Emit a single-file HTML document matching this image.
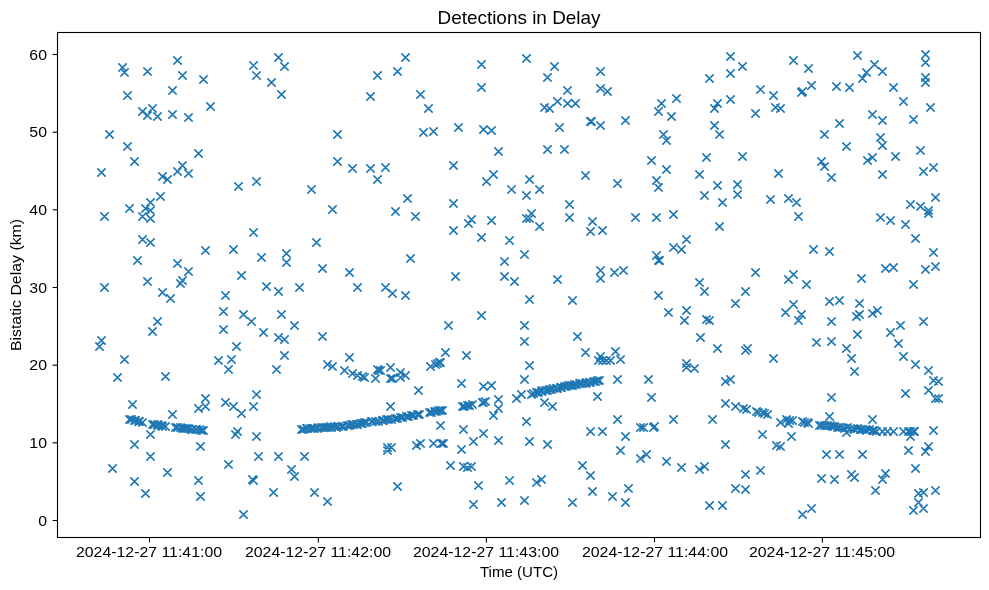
<!DOCTYPE html>
<html><head><meta charset="utf-8"><style>
html,body{margin:0;padding:0;background:#fff;}
body{width:989px;height:590px;position:relative;overflow:hidden;font-family:"Liberation Sans",sans-serif;color:#000;}
svg{position:absolute;left:0;top:0;}
.t{position:absolute;white-space:nowrap;line-height:1;-webkit-font-smoothing:antialiased;will-change:transform;}
.yl{left:-53px;width:100px;text-align:right;font-size:14.7px;transform-origin:100% 50%;transform:scaleX(1.08);}
.xl{top:545.0px;width:200px;text-align:center;font-size:14.7px;transform:scaleX(1.08);}
.title{left:319px;width:400px;top:10.0px;text-align:center;font-size:17.7px;transform:scaleX(1.07);}
.xlab{left:419px;width:200px;top:564.5px;text-align:center;font-size:14.7px;transform:scaleX(1.025);}
.ylab{left:8.5px;top:193px;width:200px;height:200px;}
.ylab span{position:absolute;left:0;top:0;width:200px;text-align:center;font-size:14.7px;line-height:1;transform-origin:0 0;transform:translate(0px,200px) rotate(-90deg) scaleX(1.08);}
</style></head><body>
<svg width="989" height="590" viewBox="0 0 989 590">
<rect x="57.5" y="32.5" width="923" height="505" fill="none" stroke="#000" stroke-width="1.1"/>
<g stroke="#000" stroke-width="1.1" fill="none"><path d="M52.6 520.5H57.5"/><path d="M52.6 442.8H57.5"/><path d="M52.6 365.2H57.5"/><path d="M52.6 287.5H57.5"/><path d="M52.6 209.8H57.5"/><path d="M52.6 132.2H57.5"/><path d="M52.6 54.5H57.5"/><path d="M149.5 537.5V542.4"/><path d="M318.3 537.5V542.4"/><path d="M486.4 537.5V542.4"/><path d="M654.5 537.5V542.4"/><path d="M822.4 537.5V542.4"/></g>
<path d="M118.33 63.33L126.67 71.67M118.33 71.67L126.67 63.33M120.33 68.33L128.67 76.67M120.33 76.67L128.67 68.33M143.33 67.33L151.67 75.67M143.33 75.67L151.67 67.33M173.33 56.33L181.67 64.67M173.33 64.67L181.67 56.33M178.33 71.33L186.67 79.67M178.33 79.67L186.67 71.33M199.33 75.33L207.67 83.67M199.33 83.67L207.67 75.33M168.33 86.33L176.67 94.67M168.33 94.67L176.67 86.33M123.33 91.33L131.67 99.67M123.33 99.67L131.67 91.33M206.33 102.33L214.67 110.67M206.33 110.67L214.67 102.33M138.33 107.33L146.67 115.67M138.33 115.67L146.67 107.33M148.33 104.33L156.67 112.67M148.33 112.67L156.67 104.33M143.33 111.33L151.67 119.67M143.33 119.67L151.67 111.33M153.33 112.33L161.67 120.67M153.33 120.67L161.67 112.33M168.33 110.33L176.67 118.67M168.33 118.67L176.67 110.33M184.33 113.33L192.67 121.67M184.33 121.67L192.67 113.33M249.33 61.33L257.67 69.67M249.33 69.67L257.67 61.33M252.33 71.33L260.67 79.67M252.33 79.67L260.67 71.33M274.33 53.33L282.67 61.67M274.33 61.67L282.67 53.33M280.33 62.33L288.67 70.67M280.33 70.67L288.67 62.33M267.33 78.33L275.67 86.67M267.33 86.67L275.67 78.33M277.33 90.33L285.67 98.67M277.33 98.67L285.67 90.33M373.33 71.33L381.67 79.67M373.33 79.67L381.67 71.33M366.33 92.33L374.67 100.67M366.33 100.67L374.67 92.33M393.33 67.33L401.67 75.67M393.33 75.67L401.67 67.33M401.33 53.33L409.67 61.67M401.33 61.67L409.67 53.33M416.33 90.33L424.67 98.67M416.33 98.67L424.67 90.33M424.33 104.33L432.67 112.67M424.33 112.67L432.67 104.33M454.33 123.33L462.67 131.67M454.33 131.67L462.67 123.33M477.33 60.33L485.67 68.67M477.33 68.67L485.67 60.33M477.33 83.33L485.67 91.67M477.33 91.67L485.67 83.33M522.33 54.33L530.67 62.67M522.33 62.67L530.67 54.33M550.33 62.33L558.67 70.67M550.33 70.67L558.67 62.33M543.33 73.33L551.67 81.67M543.33 81.67L551.67 73.33M540.33 103.33L548.67 111.67M540.33 111.67L548.67 103.33M545.33 104.33L553.67 112.67M545.33 112.67L553.67 104.33M553.33 97.33L561.67 105.67M553.33 105.67L561.67 97.33M555.33 123.33L563.67 131.67M555.33 131.67L563.67 123.33M563.33 86.33L571.67 94.67M563.33 94.67L571.67 86.33M563.33 99.33L571.67 107.67M563.33 107.67L571.67 99.33M571.33 99.33L579.67 107.67M571.33 107.67L579.67 99.33M596.33 67.33L604.67 75.67M596.33 75.67L604.67 67.33M596.33 84.33L604.67 92.67M596.33 92.67L604.67 84.33M603.33 87.33L611.67 95.67M603.33 95.67L611.67 87.33M586.33 117.33L594.67 125.67M586.33 125.67L594.67 117.33M596.33 121.33L604.67 129.67M596.33 129.67L604.67 121.33M621.33 116.33L629.67 124.67M621.33 124.67L629.67 116.33M657.33 99.33L665.67 107.67M657.33 107.67L665.67 99.33M654.33 107.33L662.67 115.67M654.33 115.67L662.67 107.33M672.33 94.33L680.67 102.67M672.33 102.67L680.67 94.33M667.33 112.33L675.67 120.67M667.33 120.67L675.67 112.33M705.33 74.33L713.67 82.67M705.33 82.67L713.67 74.33M713.33 99.33L721.67 107.67M713.33 107.67L721.67 99.33M710.33 104.33L718.67 112.67M710.33 112.67L718.67 104.33M710.33 121.33L718.67 129.67M710.33 129.67L718.67 121.33M587.33 117.33L595.67 125.67M587.33 125.67L595.67 117.33M726.33 52.33L734.67 60.67M726.33 60.67L734.67 52.33M738.33 62.33L746.67 70.67M738.33 70.67L746.67 62.33M726.33 69.33L734.67 77.67M726.33 77.67L734.67 69.33M726.33 95.33L734.67 103.67M726.33 103.67L734.67 95.33M756.33 85.33L764.67 93.67M756.33 93.67L764.67 85.33M769.33 91.33L777.67 99.67M769.33 99.67L777.67 91.33M771.33 103.33L779.67 111.67M771.33 111.67L779.67 103.33M776.33 104.33L784.67 112.67M776.33 112.67L784.67 104.33M751.33 109.33L759.67 117.67M751.33 117.67L759.67 109.33M789.33 56.33L797.67 64.67M789.33 64.67L797.67 56.33M804.33 64.33L812.67 72.67M804.33 72.67L812.67 64.33M807.33 81.33L815.67 89.67M807.33 89.67L815.67 81.33M797.33 88.33L805.67 96.67M797.33 96.67L805.67 88.33M832.33 82.33L840.67 90.67M832.33 90.67L840.67 82.33M845.33 83.33L853.67 91.67M845.33 91.67L853.67 83.33M853.33 51.33L861.67 59.67M853.33 59.67L861.67 51.33M870.33 60.33L878.67 68.67M870.33 68.67L878.67 60.33M862.33 68.33L870.67 76.67M862.33 76.67L870.67 68.33M858.33 74.33L866.67 82.67M858.33 82.67L866.67 74.33M878.33 67.33L886.67 75.67M878.33 75.67L886.67 67.33M868.33 110.33L876.67 118.67M868.33 118.67L876.67 110.33M878.33 116.33L886.67 124.67M878.33 124.67L886.67 116.33M835.33 119.33L843.67 127.67M835.33 127.67L843.67 119.33M889.33 83.33L897.67 91.67M889.33 91.67L897.67 83.33M899.33 97.33L907.67 105.67M899.33 105.67L907.67 97.33M909.33 115.33L917.67 123.67M909.33 123.67L917.67 115.33M921.33 50.33L929.67 58.67M921.33 58.67L929.67 50.33M921.33 58.33L929.67 66.67M921.33 66.67L929.67 58.33M921.33 73.33L929.67 81.67M921.33 81.67L929.67 73.33M921.33 78.33L929.67 86.67M921.33 86.67L929.67 78.33M926.33 103.33L934.67 111.67M926.33 111.67L934.67 103.33M105.33 130.33L113.67 138.67M105.33 138.67L113.67 130.33M123.33 142.33L131.67 150.67M123.33 150.67L131.67 142.33M130.33 157.33L138.67 165.67M130.33 165.67L138.67 157.33M97.33 168.33L105.67 176.67M97.33 176.67L105.67 168.33M194.33 149.33L202.67 157.67M194.33 157.67L202.67 149.33M178.33 161.33L186.67 169.67M178.33 169.67L186.67 161.33M173.33 167.33L181.67 175.67M173.33 175.67L181.67 167.33M184.33 169.33L192.67 177.67M184.33 177.67L192.67 169.33M158.33 172.33L166.67 180.67M158.33 180.67L166.67 172.33M163.33 175.33L171.67 183.67M163.33 183.67L171.67 175.33M156.33 192.33L164.67 200.67M156.33 200.67L164.67 192.33M125.33 204.33L133.67 212.67M125.33 212.67L133.67 204.33M100.33 212.33L108.67 220.67M100.33 220.67L108.67 212.33M146.33 198.33L154.67 206.67M146.33 206.67L154.67 198.33M141.33 204.33L149.67 212.67M141.33 212.67L149.67 204.33M146.33 206.33L154.67 214.67M146.33 214.67L154.67 206.33M138.33 212.33L146.67 220.67M138.33 220.67L146.67 212.33M138.33 212.33L146.67 220.67M138.33 220.67L146.67 212.33M146.33 214.33L154.67 222.67M146.33 222.67L154.67 214.33M333.33 130.33L341.67 138.67M333.33 138.67L341.67 130.33M333.33 157.33L341.67 165.67M333.33 165.67L341.67 157.33M348.33 164.33L356.67 172.67M348.33 172.67L356.67 164.33M366.33 164.33L374.67 172.67M366.33 172.67L374.67 164.33M381.33 163.33L389.67 171.67M381.33 171.67L389.67 163.33M373.33 175.33L381.67 183.67M373.33 183.67L381.67 175.33M252.33 177.33L260.67 185.67M252.33 185.67L260.67 177.33M234.33 182.33L242.67 190.67M234.33 190.67L242.67 182.33M307.33 185.33L315.67 193.67M307.33 193.67L315.67 185.33M328.33 205.33L336.67 213.67M328.33 213.67L336.67 205.33M494.33 147.33L502.67 155.67M494.33 155.67L502.67 147.33M543.33 145.33L551.67 153.67M543.33 153.67L551.67 145.33M449.33 161.33L457.67 169.67M449.33 169.67L457.67 161.33M489.33 170.33L497.67 178.67M489.33 178.67L497.67 170.33M482.33 177.33L490.67 185.67M482.33 185.67L490.67 177.33M525.33 175.33L533.67 183.67M525.33 183.67L533.67 175.33M507.33 185.33L515.67 193.67M507.33 193.67L515.67 185.33M535.33 185.33L543.67 193.67M535.33 193.67L543.67 185.33M522.33 191.33L530.67 199.67M522.33 199.67L530.67 191.33M403.33 194.33L411.67 202.67M403.33 202.67L411.67 194.33M391.33 207.33L399.67 215.67M391.33 215.67L399.67 207.33M411.33 212.33L419.67 220.67M411.33 220.67L419.67 212.33M449.33 199.33L457.67 207.67M449.33 207.67L457.67 199.33M467.33 215.33L475.67 223.67M467.33 223.67L475.67 215.33M464.33 219.33L472.67 227.67M464.33 227.67L472.67 219.33M487.33 216.33L495.67 224.67M487.33 224.67L495.67 216.33M535.33 222.33L543.67 230.67M535.33 230.67L543.67 222.33M527.33 209.33L535.67 217.67M527.33 217.67L535.67 209.33M522.33 214.33L530.67 222.67M522.33 222.67L530.67 214.33M525.33 214.33L533.67 222.67M525.33 222.67L533.67 214.33M419.33 128.33L427.67 136.67M419.33 136.67L427.67 128.33M429.33 127.33L437.67 135.67M429.33 135.67L437.67 127.33M479.33 125.33L487.67 133.67M479.33 133.67L487.67 125.33M487.33 126.33L495.67 134.67M487.33 134.67L495.67 126.33M560.33 145.33L568.67 153.67M560.33 153.67L568.67 145.33M581.33 171.33L589.67 179.67M581.33 179.67L589.67 171.33M613.33 179.33L621.67 187.67M613.33 187.67L621.67 179.33M565.33 200.33L573.67 208.67M565.33 208.67L573.67 200.33M565.33 213.33L573.67 221.67M565.33 221.67L573.67 213.33M588.33 217.33L596.67 225.67M588.33 225.67L596.67 217.33M631.33 213.33L639.67 221.67M631.33 221.67L639.67 213.33M652.33 213.33L660.67 221.67M652.33 221.67L660.67 213.33M669.33 210.33L677.67 218.67M669.33 218.67L677.67 210.33M647.33 156.33L655.67 164.67M647.33 164.67L655.67 156.33M662.33 165.33L670.67 173.67M662.33 173.67L670.67 165.33M652.33 176.33L660.67 184.67M652.33 184.67L660.67 176.33M654.33 183.33L662.67 191.67M654.33 191.67L662.67 183.33M702.33 153.33L710.67 161.67M702.33 161.67L710.67 153.33M695.33 170.33L703.67 178.67M695.33 178.67L703.67 170.33M700.33 191.33L708.67 199.67M700.33 199.67L708.67 191.33M659.33 130.33L667.67 138.67M659.33 138.67L667.67 130.33M662.33 136.33L670.67 144.67M662.33 144.67L670.67 136.33M715.33 130.33L723.67 138.67M715.33 138.67L723.67 130.33M820.33 130.33L828.67 138.67M820.33 138.67L828.67 130.33M738.33 152.33L746.67 160.67M738.33 160.67L746.67 152.33M713.33 181.33L721.67 189.67M713.33 189.67L721.67 181.33M733.33 180.33L741.67 188.67M733.33 188.67L741.67 180.33M733.33 190.33L741.67 198.67M733.33 198.67L741.67 190.33M718.33 198.33L726.67 206.67M718.33 206.67L726.67 198.33M715.33 222.33L723.67 230.67M715.33 230.67L723.67 222.33M774.33 169.33L782.67 177.67M774.33 177.67L782.67 169.33M766.33 195.33L774.67 203.67M766.33 203.67L774.67 195.33M784.33 194.33L792.67 202.67M784.33 202.67L792.67 194.33M792.33 198.33L800.67 206.67M792.33 206.67L800.67 198.33M794.33 212.33L802.67 220.67M794.33 220.67L802.67 212.33M842.33 142.33L850.67 150.67M842.33 150.67L850.67 142.33M817.33 157.33L825.67 165.67M817.33 165.67L825.67 157.33M820.33 162.33L828.67 170.67M820.33 170.67L828.67 162.33M827.33 173.33L835.67 181.67M827.33 181.67L835.67 173.33M863.33 156.33L871.67 164.67M863.33 164.67L871.67 156.33M868.33 153.33L876.67 161.67M868.33 161.67L876.67 153.33M876.33 133.33L884.67 141.67M876.33 141.67L884.67 133.33M878.33 141.33L886.67 149.67M878.33 149.67L886.67 141.33M891.33 152.33L899.67 160.67M891.33 160.67L899.67 152.33M916.33 146.33L924.67 154.67M916.33 154.67L924.67 146.33M929.33 163.33L937.67 171.67M929.33 171.67L937.67 163.33M919.33 167.33L927.67 175.67M919.33 175.67L927.67 167.33M878.33 170.33L886.67 178.67M878.33 178.67L886.67 170.33M931.33 193.33L939.67 201.67M931.33 201.67L939.67 193.33M876.33 213.33L884.67 221.67M876.33 221.67L884.67 213.33M886.33 216.33L894.67 224.67M886.33 224.67L894.67 216.33M901.33 220.33L909.67 228.67M901.33 228.67L909.67 220.33M906.33 200.33L914.67 208.67M906.33 208.67L914.67 200.33M916.33 202.33L924.67 210.67M916.33 210.67L924.67 202.33M924.33 206.33L932.67 214.67M924.33 214.67L932.67 206.33M924.33 209.33L932.67 217.67M924.33 217.67L932.67 209.33M138.33 235.33L146.67 243.67M138.33 243.67L146.67 235.33M146.33 238.33L154.67 246.67M146.33 246.67L154.67 238.33M133.33 256.33L141.67 264.67M133.33 264.67L141.67 256.33M201.33 246.33L209.67 254.67M201.33 254.67L209.67 246.33M173.33 259.33L181.67 267.67M173.33 267.67L181.67 259.33M184.33 267.33L192.67 275.67M184.33 275.67L192.67 267.33M178.33 276.33L186.67 284.67M178.33 284.67L186.67 276.33M176.33 279.33L184.67 287.67M176.33 287.67L184.67 279.33M143.33 277.33L151.67 285.67M143.33 285.67L151.67 277.33M100.33 283.33L108.67 291.67M100.33 291.67L108.67 283.33M158.33 288.33L166.67 296.67M158.33 296.67L166.67 288.33M166.33 294.33L174.67 302.67M166.33 302.67L174.67 294.33M153.33 317.33L161.67 325.67M153.33 325.67L161.67 317.33M249.33 228.33L257.67 236.67M249.33 236.67L257.67 228.33M229.33 245.33L237.67 253.67M229.33 253.67L237.67 245.33M257.33 253.33L265.67 261.67M257.33 261.67L265.67 253.33M282.33 249.33L290.67 257.67M282.33 257.67L290.67 249.33M282.33 258.33L290.67 266.67M282.33 266.67L290.67 258.33M312.33 238.33L320.67 246.67M312.33 246.67L320.67 238.33M318.33 264.33L326.67 272.67M318.33 272.67L326.67 264.33M345.33 268.33L353.67 276.67M345.33 276.67L353.67 268.33M237.33 271.33L245.67 279.67M237.33 279.67L245.67 271.33M262.33 282.33L270.67 290.67M262.33 290.67L270.67 282.33M274.33 287.33L282.67 295.67M274.33 295.67L282.67 287.33M295.33 283.33L303.67 291.67M295.33 291.67L303.67 283.33M353.33 283.33L361.67 291.67M353.33 291.67L361.67 283.33M221.33 291.33L229.67 299.67M221.33 299.67L229.67 291.33M219.33 307.33L227.67 315.67M219.33 315.67L227.67 307.33M239.33 310.33L247.67 318.67M239.33 318.67L247.67 310.33M247.33 317.33L255.67 325.67M247.33 325.67L255.67 317.33M277.33 310.33L285.67 318.67M277.33 318.67L285.67 310.33M449.33 226.33L457.67 234.67M449.33 234.67L457.67 226.33M477.33 233.33L485.67 241.67M477.33 241.67L485.67 233.33M505.33 236.33L513.67 244.67M505.33 244.67L513.67 236.33M520.33 250.33L528.67 258.67M520.33 258.67L528.67 250.33M500.33 257.33L508.67 265.67M500.33 265.67L508.67 257.33M406.33 254.33L414.67 262.67M406.33 262.67L414.67 254.33M451.33 272.33L459.67 280.67M451.33 280.67L459.67 272.33M500.33 272.33L508.67 280.67M500.33 280.67L508.67 272.33M510.33 277.33L518.67 285.67M510.33 285.67L518.67 277.33M381.33 283.33L389.67 291.67M381.33 291.67L389.67 283.33M388.33 289.33L396.67 297.67M388.33 297.67L396.67 289.33M401.33 291.33L409.67 299.67M401.33 299.67L409.67 291.33M525.33 295.33L533.67 303.67M525.33 303.67L533.67 295.33M477.33 311.33L485.67 319.67M477.33 319.67L485.67 311.33M586.33 227.33L594.67 235.67M586.33 235.67L594.67 227.33M598.33 226.33L606.67 234.67M598.33 234.67L606.67 226.33M553.33 275.33L561.67 283.67M553.33 283.67L561.67 275.33M568.33 296.33L576.67 304.67M568.33 304.67L576.67 296.33M596.33 266.33L604.67 274.67M596.33 274.67L604.67 266.33M596.33 274.33L604.67 282.67M596.33 282.67L604.67 274.33M610.33 268.33L618.67 276.67M610.33 276.67L618.67 268.33M619.33 266.33L627.67 274.67M619.33 274.67L627.67 266.33M669.33 243.33L677.67 251.67M669.33 251.67L677.67 243.33M677.33 245.33L685.67 253.67M677.33 253.67L685.67 245.33M682.33 235.33L690.67 243.67M682.33 243.67L690.67 235.33M695.33 278.33L703.67 286.67M695.33 286.67L703.67 278.33M654.33 291.33L662.67 299.67M654.33 299.67L662.67 291.33M664.33 308.33L672.67 316.67M664.33 316.67L672.67 308.33M682.33 306.33L690.67 314.67M682.33 314.67L690.67 306.33M680.33 316.33L688.67 324.67M680.33 324.67L688.67 316.33M652.33 251.33L660.67 259.67M652.33 259.67L660.67 251.33M654.33 256.33L662.67 264.67M654.33 264.67L662.67 256.33M655.33 256.33L663.67 264.67M655.33 264.67L663.67 256.33M700.33 287.33L708.67 295.67M700.33 295.67L708.67 287.33M702.33 315.33L710.67 323.67M702.33 323.67L710.67 315.33M705.33 316.33L713.67 324.67M705.33 324.67L713.67 316.33M751.33 268.33L759.67 276.67M751.33 276.67L759.67 268.33M741.33 287.33L749.67 295.67M741.33 295.67L749.67 287.33M731.33 299.33L739.67 307.67M731.33 307.67L739.67 299.33M809.33 245.33L817.67 253.67M809.33 253.67L817.67 245.33M825.33 247.33L833.67 255.67M825.33 255.67L833.67 247.33M789.33 270.33L797.67 278.67M789.33 278.67L797.67 270.33M784.33 275.33L792.67 283.67M784.33 283.67L792.67 275.33M802.33 280.33L810.67 288.67M802.33 288.67L810.67 280.33M857.33 274.33L865.67 282.67M857.33 282.67L865.67 274.33M789.33 300.33L797.67 308.67M789.33 308.67L797.67 300.33M781.33 308.33L789.67 316.67M781.33 316.67L789.67 308.33M797.33 310.33L805.67 318.67M797.33 318.67L805.67 310.33M794.33 316.33L802.67 324.67M794.33 324.67L802.67 316.33M825.33 297.33L833.67 305.67M825.33 305.67L833.67 297.33M835.33 296.33L843.67 304.67M835.33 304.67L843.67 296.33M855.33 299.33L863.67 307.67M855.33 307.67L863.67 299.33M855.33 310.33L863.67 318.67M855.33 318.67L863.67 310.33M852.33 312.33L860.67 320.67M852.33 320.67L860.67 312.33M827.33 317.33L835.67 325.67M827.33 325.67L835.67 317.33M911.33 234.33L919.67 242.67M911.33 242.67L919.67 234.33M929.33 248.33L937.67 256.67M929.33 256.67L937.67 248.33M931.33 262.33L939.67 270.67M931.33 270.67L939.67 262.33M921.33 265.33L929.67 273.67M921.33 273.67L929.67 265.33M881.33 264.33L889.67 272.67M881.33 272.67L889.67 264.33M889.33 263.33L897.67 271.67M889.33 271.67L897.67 263.33M909.33 280.33L917.67 288.67M909.33 288.67L917.67 280.33M873.33 306.33L881.67 314.67M873.33 314.67L881.67 306.33M868.33 309.33L876.67 317.67M868.33 317.67L876.67 309.33M919.33 317.33L927.67 325.67M919.33 325.67L927.67 317.33M148.33 327.33L156.67 335.67M148.33 335.67L156.67 327.33M97.33 336.33L105.67 344.67M97.33 344.67L105.67 336.33M95.33 342.33L103.67 350.67M95.33 350.67L103.67 342.33M120.33 355.33L128.67 363.67M120.33 363.67L128.67 355.33M113.33 373.33L121.67 381.67M113.33 381.67L121.67 373.33M161.33 372.33L169.67 380.67M161.33 380.67L169.67 372.33M214.33 356.33L222.67 364.67M214.33 364.67L222.67 356.33M128.33 400.33L136.67 408.67M128.33 408.67L136.67 400.33M201.33 394.33L209.67 402.67M201.33 402.67L209.67 394.33M201.33 402.33L209.67 410.67M201.33 410.67L209.67 402.33M194.33 404.33L202.67 412.67M194.33 412.67L202.67 404.33M290.33 321.33L298.67 329.67M290.33 329.67L298.67 321.33M219.33 325.33L227.67 333.67M219.33 333.67L227.67 325.33M259.33 328.33L267.67 336.67M259.33 336.67L267.67 328.33M274.33 333.33L282.67 341.67M274.33 341.67L282.67 333.33M280.33 335.33L288.67 343.67M280.33 343.67L288.67 335.33M318.33 332.33L326.67 340.67M318.33 340.67L326.67 332.33M232.33 342.33L240.67 350.67M232.33 350.67L240.67 342.33M280.33 351.33L288.67 359.67M280.33 359.67L288.67 351.33M227.33 355.33L235.67 363.67M227.33 363.67L235.67 355.33M224.33 365.33L232.67 373.67M224.33 373.67L232.67 365.33M272.33 365.33L280.67 373.67M272.33 373.67L280.67 365.33M345.33 353.33L353.67 361.67M345.33 361.67L353.67 353.33M252.33 390.33L260.67 398.67M252.33 398.67L260.67 390.33M221.33 398.33L229.67 406.67M221.33 406.67L229.67 398.33M229.33 402.33L237.67 410.67M229.33 410.67L237.67 402.33M237.33 409.33L245.67 417.67M237.33 417.67L245.67 409.33M249.33 402.33L257.67 410.67M249.33 410.67L257.67 402.33M323.33 360.33L331.67 368.67M323.33 368.67L331.67 360.33M328.33 362.33L336.67 370.67M328.33 370.67L336.67 362.33M340.33 366.33L348.67 374.67M340.33 374.67L348.67 366.33M348.33 369.33L356.67 377.67M348.33 377.67L356.67 369.33M353.33 371.33L361.67 379.67M353.33 379.67L361.67 371.33M358.33 372.33L366.67 380.67M358.33 380.67L366.67 372.33M360.33 373.33L368.67 381.67M360.33 381.67L368.67 373.33M371.33 374.33L379.67 382.67M371.33 382.67L379.67 374.33M373.33 365.33L381.67 373.67M373.33 373.67L381.67 365.33M374.33 366.33L382.67 374.67M374.33 374.67L382.67 366.33M376.33 366.33L384.67 374.67M376.33 374.67L384.67 366.33M386.33 363.33L394.67 371.67M386.33 371.67L394.67 363.33M386.33 374.33L394.67 382.67M386.33 382.67L394.67 374.33M388.33 374.33L396.67 382.67M388.33 382.67L396.67 374.33M396.33 368.33L404.67 376.67M396.33 376.67L404.67 368.33M396.33 373.33L404.67 381.67M396.33 381.67L404.67 373.33M401.33 371.33L409.67 379.67M401.33 379.67L409.67 371.33M426.33 362.33L434.67 370.67M426.33 370.67L434.67 362.33M431.33 360.33L439.67 368.67M431.33 368.67L439.67 360.33M433.33 359.33L441.67 367.67M433.33 367.67L441.67 359.33M435.33 358.33L443.67 366.67M435.33 366.67L443.67 358.33M436.33 358.33L444.67 366.67M436.33 366.67L444.67 358.33M441.33 348.33L449.67 356.67M441.33 356.67L449.67 348.33M462.33 351.33L470.67 359.67M462.33 359.67L470.67 351.33M414.33 386.33L422.67 394.67M414.33 394.67L422.67 386.33M386.33 402.33L394.67 410.67M386.33 410.67L394.67 402.33M436.33 421.33L444.67 429.67M436.33 429.67L444.67 421.33M146.33 430.33L154.67 438.67M146.33 438.67L154.67 430.33M130.33 440.33L138.67 448.67M130.33 448.67L138.67 440.33M196.33 442.33L204.67 450.67M196.33 450.67L204.67 442.33M233.33 427.33L241.67 435.67M233.33 435.67L241.67 427.33M231.33 430.33L239.67 438.67M231.33 438.67L239.67 430.33M444.33 321.33L452.67 329.67M444.33 329.67L452.67 321.33M520.33 321.33L528.67 329.67M520.33 329.67L528.67 321.33M520.33 337.33L528.67 345.67M520.33 345.67L528.67 337.33M525.33 361.33L533.67 369.67M525.33 369.67L533.67 361.33M520.33 375.33L528.67 383.67M520.33 383.67L528.67 375.33M457.33 379.33L465.67 387.67M457.33 387.67L465.67 379.33M479.33 382.33L487.67 390.67M479.33 390.67L487.67 382.33M487.33 381.33L495.67 389.67M487.33 389.67L495.67 381.33M494.33 395.33L502.67 403.67M494.33 403.67L502.67 395.33M494.33 404.33L502.67 412.67M494.33 412.67L502.67 404.33M489.33 411.33L497.67 419.67M489.33 419.67L497.67 411.33M512.33 394.33L520.67 402.67M512.33 402.67L520.67 394.33M517.33 390.33L525.67 398.67M517.33 398.67L525.67 390.33M540.33 398.33L548.67 406.67M540.33 406.67L548.67 398.33M548.33 402.33L556.67 410.67M548.33 410.67L556.67 402.33M573.33 332.33L581.67 340.67M573.33 340.67L581.67 332.33M581.33 348.33L589.67 356.67M581.33 356.67L589.67 348.33M596.33 352.33L604.67 360.67M596.33 360.67L604.67 352.33M611.33 347.33L619.67 355.67M611.33 355.67L619.67 347.33M613.33 375.33L621.67 383.67M613.33 383.67L621.67 375.33M593.33 392.33L601.67 400.67M593.33 400.67L601.67 392.33M644.33 375.33L652.67 383.67M644.33 383.67L652.67 375.33M647.33 393.33L655.67 401.67M647.33 401.67L655.67 393.33M696.33 333.33L704.67 341.67M696.33 341.67L704.67 333.33M682.33 359.33L690.67 367.67M682.33 367.67L690.67 359.33M682.33 363.33L690.67 371.67M682.33 371.67L690.67 363.33M690.33 364.33L698.67 372.67M690.33 372.67L698.67 364.33M594.33 356.33L602.67 364.67M594.33 364.67L602.67 356.33M598.33 356.33L606.67 364.67M598.33 364.67L606.67 356.33M602.33 356.33L610.67 364.67M602.33 364.67L610.67 356.33M606.33 356.33L614.67 364.67M606.33 364.67L614.67 356.33M616.33 355.33L624.67 363.67M616.33 363.67L624.67 355.33M713.33 344.33L721.67 352.67M713.33 352.67L721.67 344.33M741.33 346.33L749.67 354.67M741.33 354.67L749.67 346.33M743.33 344.33L751.67 352.67M743.33 352.67L751.67 344.33M769.33 354.33L777.67 362.67M769.33 362.67L777.67 354.33M812.33 338.33L820.67 346.67M812.33 346.67L820.67 338.33M827.33 337.33L835.67 345.67M827.33 345.67L835.67 337.33M842.33 344.33L850.67 352.67M842.33 352.67L850.67 344.33M853.33 330.33L861.67 338.67M853.33 338.67L861.67 330.33M847.33 354.33L855.67 362.67M847.33 362.67L855.67 354.33M850.33 367.33L858.67 375.67M850.33 375.67L858.67 367.33M721.33 377.33L729.67 385.67M721.33 385.67L729.67 377.33M726.33 375.33L734.67 383.67M726.33 383.67L734.67 375.33M827.33 393.33L835.67 401.67M827.33 401.67L835.67 393.33M721.33 399.33L729.67 407.67M721.33 407.67L729.67 399.33M731.33 402.33L739.67 410.67M731.33 410.67L739.67 402.33M708.33 415.33L716.67 423.67M708.33 423.67L716.67 415.33M739.33 404.33L747.67 412.67M739.33 412.67L747.67 404.33M742.33 405.33L750.67 413.67M742.33 413.67L750.67 405.33M776.33 418.33L784.67 426.67M776.33 426.67L784.67 418.33M784.33 419.33L792.67 427.67M784.33 427.67L792.67 419.33M787.33 432.33L795.67 440.67M787.33 440.67L795.67 432.33M825.33 412.33L833.67 420.67M825.33 420.67L833.67 412.33M868.33 415.33L876.67 423.67M868.33 423.67L876.67 415.33M842.33 428.33L850.67 436.67M842.33 436.67L850.67 428.33M872.33 427.33L880.67 435.67M872.33 435.67L880.67 427.33M878.33 427.33L886.67 435.67M878.33 435.67L886.67 427.33M883.33 427.33L891.67 435.67M883.33 435.67L891.67 427.33M889.33 427.33L897.67 435.67M889.33 435.67L897.67 427.33M899.33 427.33L907.67 435.67M899.33 435.67L907.67 427.33M906.33 432.33L914.67 440.67M906.33 440.67L914.67 432.33M929.33 426.33L937.67 434.67M929.33 434.67L937.67 426.33M772.33 441.33L780.67 449.67M772.33 449.67L780.67 441.33M904.33 446.33L912.67 454.67M904.33 454.67L912.67 446.33M924.33 442.33L932.67 450.67M924.33 450.67L932.67 442.33M921.33 447.33L929.67 455.67M921.33 455.67L929.67 447.33M858.33 450.33L866.67 458.67M858.33 458.67L866.67 450.33M896.33 321.33L904.67 329.67M896.33 329.67L904.67 321.33M886.33 328.33L894.67 336.67M886.33 336.67L894.67 328.33M894.33 339.33L902.67 347.67M894.33 347.67L902.67 339.33M899.33 352.33L907.67 360.67M899.33 360.67L907.67 352.33M911.33 360.33L919.67 368.67M911.33 368.67L919.67 360.33M924.33 366.33L932.67 374.67M924.33 374.67L932.67 366.33M929.33 376.33L937.67 384.67M929.33 384.67L937.67 376.33M934.33 377.33L942.67 385.67M934.33 385.67L942.67 377.33M924.33 386.33L932.67 394.67M924.33 394.67L932.67 386.33M931.33 394.33L939.67 402.67M931.33 402.67L939.67 394.33M934.33 394.33L942.67 402.67M934.33 402.67L942.67 394.33M901.33 389.33L909.67 397.67M901.33 397.67L909.67 389.33M146.33 452.33L154.67 460.67M146.33 460.67L154.67 452.33M108.33 464.33L116.67 472.67M108.33 472.67L116.67 464.33M163.33 468.33L171.67 476.67M163.33 476.67L171.67 468.33M130.33 477.33L138.67 485.67M130.33 485.67L138.67 477.33M141.33 489.33L149.67 497.67M141.33 497.67L149.67 489.33M194.33 476.33L202.67 484.67M194.33 484.67L202.67 476.33M196.33 492.33L204.67 500.67M196.33 500.67L204.67 492.33M252.33 432.33L260.67 440.67M252.33 440.67L260.67 432.33M224.33 460.33L232.67 468.67M224.33 468.67L232.67 460.33M254.33 452.33L262.67 460.67M254.33 460.67L262.67 452.33M274.33 452.33L282.67 460.67M274.33 460.67L282.67 452.33M300.33 452.33L308.67 460.67M300.33 460.67L308.67 452.33M287.33 465.33L295.67 473.67M287.33 473.67L295.67 465.33M290.33 472.33L298.67 480.67M290.33 480.67L298.67 472.33M248.33 475.33L256.67 483.67M248.33 483.67L256.67 475.33M249.33 476.33L257.67 484.67M249.33 484.67L257.67 476.33M269.33 488.33L277.67 496.67M269.33 496.67L277.67 488.33M310.33 488.33L318.67 496.67M310.33 496.67L318.67 488.33M323.33 497.33L331.67 505.67M323.33 505.67L331.67 497.33M239.33 510.33L247.67 518.67M239.33 518.67L247.67 510.33M522.33 417.33L530.67 425.67M522.33 425.67L530.67 417.33M459.33 425.33L467.67 433.67M459.33 433.67L467.67 425.33M479.33 429.33L487.67 437.67M479.33 437.67L487.67 429.33M469.33 437.33L477.67 445.67M469.33 445.67L477.67 437.33M494.33 436.33L502.67 444.67M494.33 444.67L502.67 436.33M525.33 437.33L533.67 445.67M525.33 445.67L533.67 437.33M457.33 445.33L465.67 453.67M457.33 453.67L465.67 445.33M393.33 482.33L401.67 490.67M393.33 490.67L401.67 482.33M474.33 481.33L482.67 489.67M474.33 489.67L482.67 481.33M505.33 476.33L513.67 484.67M505.33 484.67L513.67 476.33M532.33 478.33L540.67 486.67M532.33 486.67L540.67 478.33M537.33 475.33L545.67 483.67M537.33 483.67L545.67 475.33M469.33 500.33L477.67 508.67M469.33 508.67L477.67 500.33M497.33 498.33L505.67 506.67M497.33 506.67L505.67 498.33M520.33 496.33L528.67 504.67M520.33 504.67L528.67 496.33M383.33 443.33L391.67 451.67M383.33 451.67L391.67 443.33M387.33 443.33L395.67 451.67M387.33 451.67L395.67 443.33M383.33 446.33L391.67 454.67M383.33 454.67L391.67 446.33M412.33 441.33L420.67 449.67M412.33 449.67L420.67 441.33M416.33 439.33L424.67 447.67M416.33 447.67L424.67 439.33M429.33 439.33L437.67 447.67M429.33 447.67L437.67 439.33M437.33 439.33L445.67 447.67M437.33 447.67L445.67 439.33M439.33 439.33L447.67 447.67M439.33 447.67L447.67 439.33M446.33 461.33L454.67 469.67M446.33 469.67L454.67 461.33M459.33 462.33L467.67 470.67M459.33 470.67L467.67 462.33M463.33 463.33L471.67 471.67M463.33 471.67L471.67 463.33M467.33 462.33L475.67 470.67M467.33 470.67L475.67 462.33M543.33 440.33L551.67 448.67M543.33 448.67L551.67 440.33M613.33 415.33L621.67 423.67M613.33 423.67L621.67 415.33M586.33 427.33L594.67 435.67M586.33 435.67L594.67 427.33M598.33 427.33L606.67 435.67M598.33 435.67L606.67 427.33M621.33 432.33L629.67 440.67M621.33 440.67L629.67 432.33M616.33 446.33L624.67 454.67M616.33 454.67L624.67 446.33M669.33 415.33L677.67 423.67M669.33 423.67L677.67 415.33M636.33 454.33L644.67 462.67M636.33 462.67L644.67 454.33M642.33 450.33L650.67 458.67M642.33 458.67L650.67 450.33M662.33 457.33L670.67 465.67M662.33 465.67L670.67 457.33M677.33 463.33L685.67 471.67M677.33 471.67L685.67 463.33M695.33 465.33L703.67 473.67M695.33 473.67L703.67 465.33M578.33 461.33L586.67 469.67M578.33 469.67L586.67 461.33M586.33 471.33L594.67 479.67M586.33 479.67L594.67 471.33M588.33 487.33L596.67 495.67M588.33 495.67L596.67 487.33M568.33 498.33L576.67 506.67M568.33 506.67L576.67 498.33M608.33 492.33L616.67 500.67M608.33 500.67L616.67 492.33M624.33 484.33L632.67 492.67M624.33 492.67L632.67 484.33M621.33 498.33L629.67 506.67M621.33 506.67L629.67 498.33M636.33 423.33L644.67 431.67M636.33 431.67L644.67 423.33M639.33 423.33L647.67 431.67M639.33 431.67L647.67 423.33M649.33 423.33L657.67 431.67M649.33 431.67L657.67 423.33M650.33 422.33L658.67 430.67M650.33 430.67L658.67 422.33M721.33 440.33L729.67 448.67M721.33 448.67L729.67 440.33M741.33 470.33L749.67 478.67M741.33 478.67L749.67 470.33M756.33 466.33L764.67 474.67M756.33 474.67L764.67 466.33M731.33 484.33L739.67 492.67M731.33 492.67L739.67 484.33M741.33 485.33L749.67 493.67M741.33 493.67L749.67 485.33M705.33 501.33L713.67 509.67M705.33 509.67L713.67 501.33M718.33 501.33L726.67 509.67M718.33 509.67L726.67 501.33M758.33 430.33L766.67 438.67M758.33 438.67L766.67 430.33M822.33 450.33L830.67 458.67M822.33 458.67L830.67 450.33M835.33 450.33L843.67 458.67M835.33 458.67L843.67 450.33M817.33 474.33L825.67 482.67M817.33 482.67L825.67 474.33M830.33 475.33L838.67 483.67M830.33 483.67L838.67 475.33M847.33 470.33L855.67 478.67M847.33 478.67L855.67 470.33M850.33 473.33L858.67 481.67M850.33 481.67L858.67 473.33M807.33 504.33L815.67 512.67M807.33 512.67L815.67 504.33M798.33 510.33L806.67 518.67M798.33 518.67L806.67 510.33M776.33 442.33L784.67 450.67M776.33 450.67L784.67 442.33M911.33 464.33L919.67 472.67M911.33 472.67L919.67 464.33M881.33 469.33L889.67 477.67M881.33 477.67L889.67 469.33M878.33 475.33L886.67 483.67M878.33 483.67L886.67 475.33M871.33 486.33L879.67 494.67M871.33 494.67L879.67 486.33M914.33 489.33L922.67 497.67M914.33 497.67L922.67 489.33M919.33 488.33L927.67 496.67M919.33 496.67L927.67 488.33M931.33 486.33L939.67 494.67M931.33 494.67L939.67 486.33M914.33 498.33L922.67 506.67M914.33 506.67L922.67 498.33M909.33 506.33L917.67 514.67M909.33 514.67L917.67 506.33M919.33 504.33L927.67 512.67M919.33 512.67L927.67 504.33M798.33 87.33L806.67 95.67M798.33 95.67L806.67 87.33M168.33 410.33L176.67 418.67M168.33 418.67L176.67 410.33M700.33 462.33L708.67 470.67M700.33 470.67L708.67 462.33M125.33 415.33L133.67 423.67M125.33 423.67L133.67 415.33M127.33 415.33L135.67 423.67M127.33 423.67L135.67 415.33M130.33 416.33L138.67 424.67M130.33 424.67L138.67 416.33M131.33 416.33L139.67 424.67M131.33 424.67L139.67 416.33M134.33 417.33L142.67 425.67M134.33 425.67L142.67 417.33M135.33 417.33L143.67 425.67M135.33 425.67L143.67 417.33M138.33 418.33L146.67 426.67M138.33 426.67L146.67 418.33M148.33 420.33L156.67 428.67M148.33 428.67L156.67 420.33M150.33 420.33L158.67 428.67M150.33 428.67L158.67 420.33M153.33 420.33L161.67 428.67M153.33 428.67L161.67 420.33M154.33 421.33L162.67 429.67M154.33 429.67L162.67 421.33M157.33 421.33L165.67 429.67M157.33 429.67L165.67 421.33M158.33 422.33L166.67 430.67M158.33 430.67L166.67 422.33M161.33 422.33L169.67 430.67M161.33 430.67L169.67 422.33M171.33 423.33L179.67 431.67M171.33 431.67L179.67 423.33M173.33 423.33L181.67 431.67M173.33 431.67L181.67 423.33M176.33 423.33L184.67 431.67M176.33 431.67L184.67 423.33M178.33 424.33L186.67 432.67M178.33 432.67L186.67 424.33M180.33 424.33L188.67 432.67M180.33 432.67L188.67 424.33M182.33 424.33L190.67 432.67M182.33 432.67L190.67 424.33M184.33 424.33L192.67 432.67M184.33 432.67L192.67 424.33M187.33 425.33L195.67 433.67M187.33 433.67L195.67 425.33M188.33 425.33L196.67 433.67M188.33 433.67L196.67 425.33M191.33 425.33L199.67 433.67M191.33 433.67L199.67 425.33M192.33 425.33L200.67 433.67M192.33 433.67L200.67 425.33M195.33 425.33L203.67 433.67M195.33 433.67L203.67 425.33M197.33 426.33L205.67 434.67M197.33 434.67L205.67 426.33M199.33 426.33L207.67 434.67M199.33 434.67L207.67 426.33M297.33 425.33L305.67 433.67M297.33 433.67L305.67 425.33M299.33 425.33L307.67 433.67M299.33 433.67L307.67 425.33M302.33 424.33L310.67 432.67M302.33 432.67L310.67 424.33M303.33 424.33L311.67 432.67M303.33 432.67L311.67 424.33M306.33 424.33L314.67 432.67M306.33 432.67L314.67 424.33M308.33 424.33L316.67 432.67M308.33 432.67L316.67 424.33M310.33 424.33L318.67 432.67M310.33 432.67L318.67 424.33M313.33 424.33L321.67 432.67M313.33 432.67L321.67 424.33M314.33 423.33L322.67 431.67M314.33 431.67L322.67 423.33M317.33 423.33L325.67 431.67M317.33 431.67L325.67 423.33M319.33 423.33L327.67 431.67M319.33 431.67L327.67 423.33M321.33 423.33L329.67 431.67M321.33 431.67L329.67 423.33M323.33 423.33L331.67 431.67M323.33 431.67L331.67 423.33M326.33 422.33L334.67 430.67M326.33 430.67L334.67 422.33M327.33 423.33L335.67 431.67M327.33 431.67L335.67 423.33M330.33 422.33L338.67 430.67M330.33 430.67L338.67 422.33M332.33 423.33L340.67 431.67M332.33 431.67L340.67 423.33M334.33 422.33L342.67 430.67M334.33 430.67L342.67 422.33M337.33 422.33L345.67 430.67M337.33 430.67L345.67 422.33M339.33 422.33L347.67 430.67M339.33 430.67L347.67 422.33M343.33 421.33L351.67 429.67M343.33 429.67L351.67 421.33M345.33 421.33L353.67 429.67M345.33 429.67L353.67 421.33M347.33 420.33L355.67 428.67M347.33 428.67L355.67 420.33M349.33 420.33L357.67 428.67M349.33 428.67L357.67 420.33M352.33 420.33L360.67 428.67M352.33 428.67L360.67 420.33M353.33 420.33L361.67 428.67M353.33 428.67L361.67 420.33M356.33 419.33L364.67 427.67M356.33 427.67L364.67 419.33M358.33 419.33L366.67 427.67M358.33 427.67L366.67 419.33M360.33 418.33L368.67 426.67M360.33 426.67L368.67 418.33M362.33 418.33L370.67 426.67M362.33 426.67L370.67 418.33M367.33 417.33L375.67 425.67M367.33 425.67L375.67 417.33M368.33 417.33L376.67 425.67M368.33 425.67L376.67 417.33M371.33 417.33L379.67 425.67M371.33 425.67L379.67 417.33M374.33 417.33L382.67 425.67M374.33 425.67L382.67 417.33M378.33 416.33L386.67 424.67M378.33 424.67L386.67 416.33M379.33 416.33L387.67 424.67M379.33 424.67L387.67 416.33M382.33 415.33L390.67 423.67M382.33 423.67L390.67 415.33M384.33 415.33L392.67 423.67M384.33 423.67L392.67 415.33M387.33 415.33L395.67 423.67M387.33 423.67L395.67 415.33M391.33 414.33L399.67 422.67M391.33 422.67L399.67 414.33M393.33 414.33L401.67 422.67M393.33 422.67L401.67 414.33M396.33 413.33L404.67 421.67M396.33 421.67L404.67 413.33M398.33 413.33L406.67 421.67M398.33 421.67L406.67 413.33M402.33 412.33L410.67 420.67M402.33 420.67L410.67 412.33M404.33 412.33L412.67 420.67M404.33 420.67L412.67 412.33M407.33 411.33L415.67 419.67M407.33 419.67L415.67 411.33M409.33 411.33L417.67 419.67M409.33 419.67L417.67 411.33M413.33 410.33L421.67 418.67M413.33 418.67L421.67 410.33M415.33 410.33L423.67 418.67M415.33 418.67L423.67 410.33M425.33 408.33L433.67 416.67M425.33 416.67L433.67 408.33M427.33 408.33L435.67 416.67M427.33 416.67L435.67 408.33M430.33 407.33L438.67 415.67M430.33 415.67L438.67 407.33M432.33 407.33L440.67 415.67M432.33 415.67L440.67 407.33M434.33 406.33L442.67 414.67M434.33 414.67L442.67 406.33M436.33 406.33L444.67 414.67M436.33 414.67L444.67 406.33M438.33 406.33L446.67 414.67M438.33 414.67L446.67 406.33M458.33 402.33L466.67 410.67M458.33 410.67L466.67 402.33M460.33 402.33L468.67 410.67M460.33 410.67L468.67 402.33M463.33 401.33L471.67 409.67M463.33 409.67L471.67 401.33M465.33 401.33L473.67 409.67M465.33 409.67L473.67 401.33M468.33 400.33L476.67 408.67M468.33 408.67L476.67 400.33M478.33 398.33L486.67 406.67M478.33 406.67L486.67 398.33M479.33 398.33L487.67 406.67M479.33 406.67L487.67 398.33M481.33 397.33L489.67 405.67M481.33 405.67L489.67 397.33M527.33 390.33L535.67 398.67M527.33 398.67L535.67 390.33M529.33 389.33L537.67 397.67M529.33 397.67L537.67 389.33M532.33 388.33L540.67 396.67M532.33 396.67L540.67 388.33M534.33 388.33L542.67 396.67M534.33 396.67L542.67 388.33M537.33 387.33L545.67 395.67M537.33 395.67L545.67 387.33M538.33 386.33L546.67 394.67M538.33 394.67L546.67 386.33M541.33 386.33L549.67 394.67M541.33 394.67L549.67 386.33M543.33 386.33L551.67 394.67M543.33 394.67L551.67 386.33M545.33 385.33L553.67 393.67M545.33 393.67L553.67 385.33M547.33 385.33L555.67 393.67M547.33 393.67L555.67 385.33M549.33 384.33L557.67 392.67M549.33 392.67L557.67 384.33M552.33 384.33L560.67 392.67M552.33 392.67L560.67 384.33M553.33 384.33L561.67 392.67M553.33 392.67L561.67 384.33M556.33 383.33L564.67 391.67M556.33 391.67L564.67 383.33M557.33 383.33L565.67 391.67M557.33 391.67L565.67 383.33M560.33 382.33L568.67 390.67M560.33 390.67L568.67 382.33M562.33 382.33L570.67 390.67M562.33 390.67L570.67 382.33M564.33 381.33L572.67 389.67M564.33 389.67L572.67 381.33M566.33 381.33L574.67 389.67M566.33 389.67L574.67 381.33M568.33 381.33L576.67 389.67M568.33 389.67L576.67 381.33M570.33 380.33L578.67 388.67M570.33 388.67L578.67 380.33M572.33 380.33L580.67 388.67M572.33 388.67L580.67 380.33M575.33 379.33L583.67 387.67M575.33 387.67L583.67 379.33M576.33 379.33L584.67 387.67M576.33 387.67L584.67 379.33M578.33 379.33L586.67 387.67M578.33 387.67L586.67 379.33M581.33 379.33L589.67 387.67M581.33 387.67L589.67 379.33M582.33 378.33L590.67 386.67M582.33 386.67L590.67 378.33M585.33 378.33L593.67 386.67M585.33 386.67L593.67 378.33M586.33 378.33L594.67 386.67M586.33 386.67L594.67 378.33M589.33 377.33L597.67 385.67M589.33 385.67L597.67 377.33M591.33 377.33L599.67 385.67M591.33 385.67L599.67 377.33M593.33 376.33L601.67 384.67M593.33 384.67L601.67 376.33M595.33 376.33L603.67 384.67M595.33 384.67L603.67 376.33M752.33 407.33L760.67 415.67M752.33 415.67L760.67 407.33M754.33 408.33L762.67 416.67M754.33 416.67L762.67 408.33M758.33 408.33L766.67 416.67M758.33 416.67L766.67 408.33M760.33 409.33L768.67 417.67M760.33 417.67L768.67 409.33M763.33 410.33L771.67 418.67M763.33 418.67L771.67 410.33M782.33 415.33L790.67 423.67M782.33 423.67L790.67 415.33M785.33 416.33L793.67 424.67M785.33 424.67L793.67 416.33M788.33 416.33L796.67 424.67M788.33 424.67L796.67 416.33M798.33 417.33L806.67 425.67M798.33 425.67L806.67 417.33M800.33 418.33L808.67 426.67M800.33 426.67L808.67 418.33M803.33 418.33L811.67 426.67M803.33 426.67L811.67 418.33M804.33 419.33L812.67 427.67M804.33 427.67L812.67 419.33M815.33 421.33L823.67 429.67M815.33 429.67L823.67 421.33M817.33 421.33L825.67 429.67M817.33 429.67L825.67 421.33M820.33 421.33L828.67 429.67M820.33 429.67L828.67 421.33M823.33 421.33L831.67 429.67M823.33 429.67L831.67 421.33M826.33 421.33L834.67 429.67M826.33 429.67L834.67 421.33M828.33 422.33L836.67 430.67M828.33 430.67L836.67 422.33M830.33 422.33L838.67 430.67M830.33 430.67L838.67 422.33M833.33 423.33L841.67 431.67M833.33 431.67L841.67 423.33M835.33 423.33L843.67 431.67M835.33 431.67L843.67 423.33M838.33 423.33L846.67 431.67M838.33 431.67L846.67 423.33M840.33 424.33L848.67 432.67M840.33 432.67L848.67 424.33M843.33 423.33L851.67 431.67M843.33 431.67L851.67 423.33M846.33 424.33L854.67 432.67M846.33 432.67L854.67 424.33M849.33 424.33L857.67 432.67M849.33 432.67L857.67 424.33M850.33 425.33L858.67 433.67M850.33 433.67L858.67 425.33M853.33 424.33L861.67 432.67M853.33 432.67L861.67 424.33M856.33 425.33L864.67 433.67M856.33 433.67L864.67 425.33M858.33 425.33L866.67 433.67M858.33 433.67L866.67 425.33M861.33 425.33L869.67 433.67M861.33 433.67L869.67 425.33M862.33 426.33L870.67 434.67M862.33 434.67L870.67 426.33M865.33 425.33L873.67 433.67M865.33 433.67L873.67 425.33M868.33 426.33L876.67 434.67M868.33 434.67L876.67 426.33M870.33 426.33L878.67 434.67M870.33 434.67L878.67 426.33M904.33 427.33L912.67 435.67M904.33 435.67L912.67 427.33M906.33 427.33L914.67 435.67M906.33 435.67L914.67 427.33M909.33 427.33L917.67 435.67M909.33 435.67L917.67 427.33M910.33 427.33L918.67 435.67M910.33 435.67L918.67 427.33" stroke="#1f77b4" stroke-width="1.55" fill="none" stroke-linecap="butt"/>
</svg>
<div class="t title">Detections in Delay</div>
<div class="t yl" style="top:513.50px">0</div><div class="t yl" style="top:435.80px">10</div><div class="t yl" style="top:358.20px">20</div><div class="t yl" style="top:280.50px">30</div><div class="t yl" style="top:202.80px">40</div><div class="t yl" style="top:125.20px">50</div><div class="t yl" style="top:47.50px">60</div><div class="t xl" style="left:48.70px">2024-12-27 11:41:00</div><div class="t xl" style="left:218.30px">2024-12-27 11:42:00</div><div class="t xl" style="left:386.40px">2024-12-27 11:43:00</div><div class="t xl" style="left:554.50px">2024-12-27 11:44:00</div><div class="t xl" style="left:722.40px">2024-12-27 11:45:00</div>
<div class="t xlab">Time (UTC)</div>
<div class="t ylab"><span>Bistatic Delay (km)</span></div>
</body></html>
